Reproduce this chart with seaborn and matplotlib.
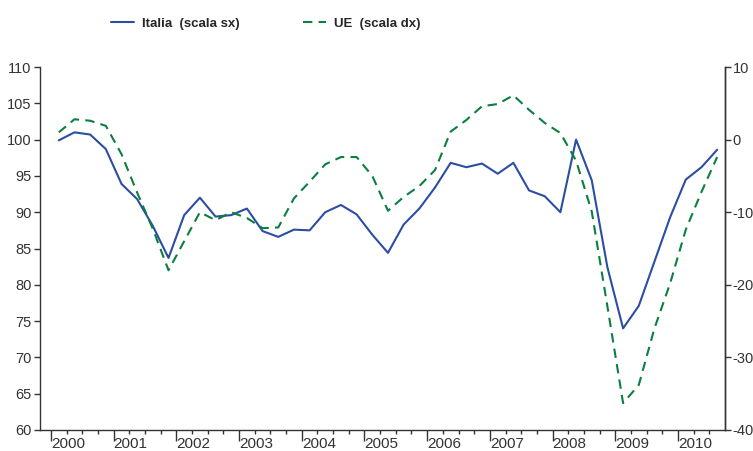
import numpy as np
import pandas as pd
import matplotlib
matplotlib.use("Agg")
import matplotlib.pyplot as plt
import matplotlib.transforms as mtransforms
import seaborn as sns

# Quarterly data, 2000 Q1 - 2010 Q3
years = list(range(2000, 2011))
quarters = [f"{y}Q{q}" for y in years for q in range(1, 5)][:43]

# Italia (left scale)
italia = [99.9, 101.0, 100.7, 98.7, 93.9, 91.8, 88.1, 83.7, 89.6, 92.0,
          89.4, 89.6, 90.5, 87.4, 86.6, 87.6, 87.5, 90.0, 91.0, 89.7,
          86.9, 84.4, 88.3, 90.5, 93.4, 96.8, 96.2, 96.7, 95.3, 96.8,
          93.0, 92.2, 90.0, 100.0, 94.4, 82.4, 74.0, 77.1, 83.2, 89.3,
          94.5, 96.2, 98.6]

# UE (right scale)
ue = [1.0, 2.8, 2.6, 1.9, -2.0, -7.3, -12.3, -18.0, -14.0, -10.0,
      -11.1, -10.0, -10.8, -12.2, -12.1, -8.1, -5.8, -3.4, -2.4, -2.4,
      -5.0, -9.8, -7.9, -6.4, -4.2, 1.1, 2.7, 4.6, 4.9, 6.1,
      4.1, 2.3, 0.9, -2.9, -9.9, -23.0, -36.3, -33.8, -26.0, -19.8,
      -12.4, -7.2, -2.4]

df = pd.DataFrame({"quarter": quarters, "Italia": italia, "UE": ue})
df["x"] = np.arange(len(df)) + 0.5

blue = "#2b4ea2"
green = "#0a7f3f"
grey = "#333333"

sns.set_style("ticks")
plt.rcParams["font.family"] = ["Liberation Sans", "DejaVu Sans"]
plt.rcParams["axes.unicode_minus"] = False

fig = plt.figure(figsize=(7.53, 4.51), dpi=100)
ax = fig.add_axes([0.0531, 0.0466, 0.9097, 0.8048])
ax2 = ax.twinx()

sns.lineplot(data=df, x="x", y="Italia", ax=ax, color=blue, linewidth=1.5,
             label="Italia  (scala sx)", legend=False)
sns.lineplot(data=df, x="x", y="UE", ax=ax2, color=green, linewidth=1.5,
             label="UE  (scala dx)", legend=False)
ax2.lines[0].set_dashes((4.5, 3))

ax.set_xlim(-0.7, 43)
ax.set_ylim(60, 110)
ax2.set_ylim(-40, 10)
ax.set_yticks(np.arange(60, 111, 5))
ax2.set_yticks(np.arange(-40, 11, 10))

ax.set_xticks(np.arange(0, 41, 4))
ax.set_xticks(np.arange(0, 43, 1), minor=True)
ax.set_xticklabels([str(y) for y in years], ha="left")
offset = mtransforms.ScaledTranslation(2 / 100, 0, fig.dpi_scale_trans)
for lab in ax.get_xticklabels():
    lab.set_transform(lab.get_transform() + offset)

ax.set_xlabel("")
ax.set_ylabel("")
ax2.set_ylabel("")

for a in (ax, ax2):
    a.spines["top"].set_visible(False)
    for s in a.spines.values():
        s.set_color(grey)
        s.set_linewidth(1.0)
ax2.spines["left"].set_visible(False)
ax2.spines["bottom"].set_visible(False)

ax.tick_params(axis="y", labelsize=10.5, colors=grey, length=4, width=1, pad=2)
ax2.tick_params(axis="y", labelsize=10.5, colors=grey, length=4, width=1, pad=1.5)
ax.tick_params(axis="x", which="major", labelsize=11, colors=grey,
               length=8, width=1, pad=-3)
ax.tick_params(axis="x", which="minor", colors=grey, length=3, width=1)

handles = ax.get_lines()[:1] + ax2.get_lines()[:1]
labels = ["Italia  (scala sx)", "UE  (scala dx)"]
fig.legend(handles, labels, loc="center left", bbox_to_anchor=(106 / 753, 1 - 24 / 451),
           ncol=2, frameon=False, borderaxespad=0, handlelength=1.75,
           handletextpad=0.6, columnspacing=4.8,
           prop={"family": ["Liberation Sans", "DejaVu Sans"],
                 "weight": "bold", "size": 9.5})

fig.savefig("out.png", dpi=100)
